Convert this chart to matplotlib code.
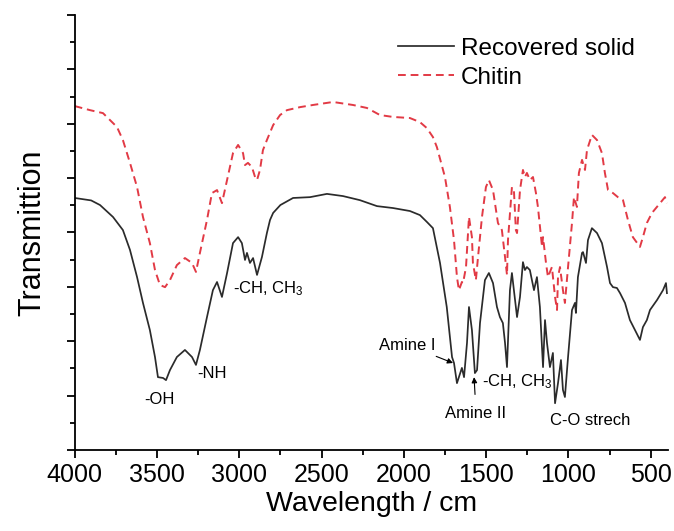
import numpy as np
import matplotlib
matplotlib.use("Agg")
import matplotlib.pyplot as plt
from matplotlib.ticker import MultipleLocator, NullFormatter

plt.rcParams['font.family'] = ['Liberation Sans', 'DejaVu Sans']
plt.rcParams['mathtext.fontset'] = 'custom'
plt.rcParams['mathtext.rm'] = 'Liberation Sans'
plt.rcParams['mathtext.it'] = 'Liberation Sans'

# wavenumber (cm-1) and transmission (arbitrary units)
solid_wn = [4000, 3900, 3846, 3767, 3707, 3664, 3621, 3585, 3543, 3512, 3494, 3463, 3445,
            3421, 3379, 3330, 3287, 3263, 3239, 3196, 3160, 3135, 3105, 3074, 3038,
            3007, 2984, 2965, 2953, 2935, 2916, 2892, 2862, 2832, 2813, 2794, 2750,
            2673, 2570, 2467, 2370, 2267, 2163, 2066, 1963, 1902, 1860, 1823, 1780,
            1739, 1707, 1695, 1677, 1647, 1634, 1616, 1604, 1586, 1568, 1555, 1537,
            1507, 1483, 1458, 1434, 1416, 1398, 1385, 1373, 1355, 1343, 1331, 1312,
            1294, 1276, 1264, 1252, 1234, 1209, 1191, 1173, 1154, 1142, 1130, 1112,
            1094, 1081, 1063, 1045, 1033, 1021, 1002, 978, 960, 954, 942, 917,
            911, 893, 881, 857, 826, 796, 765, 747, 729, 705, 686, 656,
            626, 595, 565, 547, 523, 504, 461, 425, 407, 401]
solid_t = [9.27, 9.18, 9.01, 8.57, 8.09, 7.36, 6.36, 5.41, 4.41, 3.42, 2.68, 2.65, 2.57,
           2.94, 3.42, 3.68, 3.42, 3.13, 3.68, 4.89, 5.88, 6.18, 5.63, 6.51, 7.61,
           7.83, 7.61, 6.99, 7.25, 6.88, 7.06, 6.44, 7.10, 7.98, 8.46, 8.72, 9.01,
           9.27, 9.30, 9.42, 9.34, 9.19, 8.97, 8.90, 8.79, 8.64, 8.39, 8.16, 6.88,
           5.26, 3.42, 3.20, 2.46, 3.02, 2.68, 3.94, 5.26, 4.41, 2.83, 2.94, 4.67,
           6.25, 6.51, 6.14, 5.26, 4.89, 4.67, 3.94, 3.05, 5.88, 6.51, 5.88, 4.89,
           5.63, 6.91, 6.62, 6.73, 6.62, 5.88, 6.36, 5.26, 3.05, 4.78, 3.94, 3.05,
           3.57, 1.72, 2.46, 3.31, 2.21, 1.95, 3.42, 5.15, 5.41, 5.04, 6.36, 7.25,
           7.28, 6.88, 7.72, 8.16, 7.98, 7.61, 6.73, 6.14, 5.99, 5.96, 5.77, 5.41,
           4.78, 4.41, 4.05, 4.52, 4.78, 5.15, 5.52, 5.88, 6.14, 5.77]

chitin_wn = [4000, 3907, 3828, 3743, 3707, 3664, 3621, 3585, 3543, 3512, 3482, 3451,
             3421, 3379, 3330, 3287, 3263, 3239, 3196, 3166, 3135, 3105, 3074, 3038,
             3007, 2977, 2965, 2947, 2923, 2904, 2892, 2874, 2856, 2832, 2794, 2752,
             2710, 2631, 2552, 2430, 2309, 2224, 2145, 2066, 1963, 1902, 1860, 1823,
             1799, 1750, 1720, 1695, 1677, 1665, 1647, 1640, 1622, 1604, 1586, 1580,
             1562, 1549, 1525, 1501, 1483, 1458, 1428, 1404, 1385, 1373, 1367, 1343,
             1331, 1319, 1312, 1294, 1276, 1264, 1252, 1234, 1215, 1197, 1185, 1160,
             1154, 1136, 1124, 1100, 1081, 1069, 1063, 1051, 1033, 1021, 1002, 978,
             966, 948, 936, 917, 899, 887, 857, 826, 796, 778, 759, 729,
             699, 668, 638, 608, 565, 547, 523, 492, 462, 413, 401]
chitin_t = [12.65, 12.50, 12.39, 11.88, 11.40, 10.56, 9.67, 8.57, 7.61, 6.62, 6.07, 5.99,
            6.25, 6.80, 7.06, 6.88, 6.55, 7.25, 8.46, 9.45, 9.56, 9.08, 9.93, 10.92,
            11.22, 10.92, 10.48, 10.56, 10.41, 10.04, 9.93, 10.30, 11.03, 11.40, 11.95, 12.32,
            12.50, 12.61, 12.69, 12.80, 12.69, 12.58, 12.32, 12.25, 12.21, 12.06, 11.84, 11.51,
            11.14, 10.04, 8.94, 7.72, 6.36, 5.88, 6.18, 6.14, 6.73, 8.57, 7.83, 6.88,
            6.25, 7.10, 8.57, 9.67, 9.93, 9.56, 8.35, 8.09, 7.10, 6.44, 7.72, 9.67,
            9.56, 8.09, 7.98, 9.56, 10.30, 10.04, 10.19, 9.93, 10.04, 9.45, 8.94, 7.47,
            7.83, 6.88, 6.36, 6.73, 5.63, 5.15, 6.36, 6.73, 5.88, 5.41, 6.73, 8.35,
            9.30, 8.94, 10.19, 10.67, 10.30, 11.03, 11.59, 11.40, 10.92, 10.19, 9.56, 9.45,
            9.30, 9.19, 8.46, 7.83, 7.47, 7.83, 8.35, 8.72, 8.94, 9.30, 9.08]

fig = plt.figure(figsize=(6.74, 5.31), dpi=100)
ax = fig.add_axes([0.1108, 0.1525, 0.8802, 0.8193])

ax.plot(solid_wn, solid_t, color='#2b2b2b', lw=1.25, label='Recovered solid')
ax.plot(chitin_wn, chitin_t, color='#e23a45', lw=1.4, dashes=(4, 2.5), label='Chitin')

ax.set_xlim(4000, 395)
ax.set_ylim(0, 16)
ax.xaxis.set_major_locator(MultipleLocator(500))
ax.xaxis.set_minor_locator(MultipleLocator(250))
ax.yaxis.set_major_locator(MultipleLocator(2))
ax.yaxis.set_minor_locator(MultipleLocator(1))
ax.yaxis.set_major_formatter(NullFormatter())
ax.tick_params(which='major', direction='out', length=6, width=1.3, labelsize=18)
ax.tick_params(which='minor', direction='out', length=3.5, width=1.3)
ax.spines['top'].set_visible(False)
ax.spines['right'].set_visible(False)
for s in ['left', 'bottom']:
    ax.spines[s].set_linewidth(1.3)

ax.set_xlabel('Wavelength / cm', fontsize=20.5, labelpad=3)
ax.set_ylabel('Transmittion', fontsize=22, labelpad=10)

fs = 12
ax.text(3482, 1.84, '-OH', fontsize=fs, ha='center', va='center')
ax.text(3256, 2.83, '-NH', fontsize=fs, ha='left', va='center')
ax.text(3038, 5.92, '-CH, CH$_3$', fontsize=fs, ha='left', va='center')
ax.text(1525, 2.50, '-CH, CH$_3$', fontsize=fs, ha='left', va='center')
ax.text(869, 1.07, 'C-O strech', fontsize=fs, ha='center', va='center')
ax.annotate('Amine I', xy=(1701, 3.20), xytext=(1805, 3.86), fontsize=fs,
            ha='right', va='center',
            arrowprops=dict(arrowstyle='-|>', color='black', lw=0.8,
                            mutation_scale=8, shrinkA=2, shrinkB=0))
ax.annotate('Amine II', xy=(1573, 2.68), xytext=(1561, 1.36), fontsize=fs,
            ha='center', va='center',
            arrowprops=dict(arrowstyle='-|>', color='black', lw=0.8,
                            mutation_scale=8, shrinkA=6, shrinkB=0))

ax.legend(loc='upper left', bbox_to_anchor=(0.545, 0.948), frameon=False,
          fontsize=17.5, handlelength=2.3, handletextpad=0.3, labelspacing=0.3,
          borderpad=0, borderaxespad=0)

fig.savefig('out.png', dpi=100)
